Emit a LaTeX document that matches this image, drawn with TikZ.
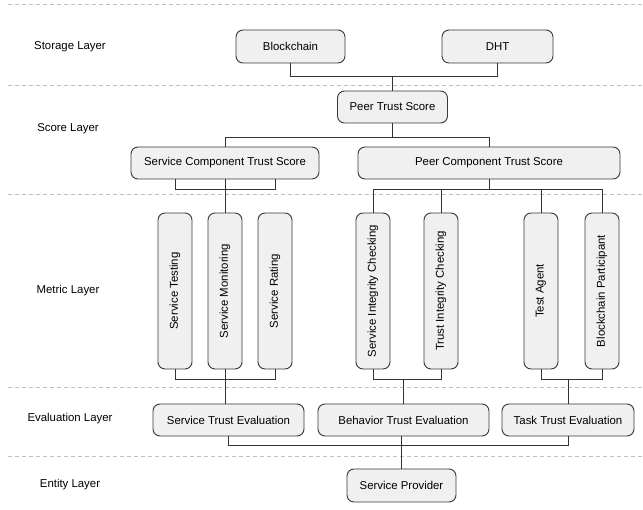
\documentclass[tikz,border=0pt]{standalone}
\usepackage{fontspec}
\setmainfont{Liberation Sans}
\begin{document}
\begin{tikzpicture}[x=1pt,y=-1pt,
  every node/.style={font=\fontsize{11.4}{13}\selectfont, text=black},
  box/.style={draw=black!78, fill=black!6, line width=0.9pt, rounded corners=7pt, inner sep=0pt, minimum height=33pt},
  vbox/.style={box, minimum width=34pt, minimum height=156pt},
  wire/.style={draw=black!80, line width=0.9pt},
  sep/.style={draw=black!25, line width=0.8pt, dash pattern=on 4pt off 3pt},
  lay/.style={anchor=center}]
\useasboundingbox (0,0) rectangle (643,510);

% layer separators
\foreach \yy in {4,85,194,387,456} \draw[sep] (8,\yy) -- (643,\yy);

% layer labels
\node[lay] (lstorage) at (70,47) {Storage Layer};
\node[lay] (lscore) at (68,129) {Score Layer};
\node[lay] (lmetric) at (68,291) {Metric Layer};
\node[lay] (leval) at (70,419) {Evaluation Layer};
\node[lay] (lentity) at (70,485) {Entity Layer};

% storage
\node[box, minimum width=109pt] (bc) at (290.5,46.5) {Blockchain};
\node[box, minimum width=111pt] (dht) at (497.5,46.5) {DHT};
% score
\node[box, minimum width=110pt, minimum height=32pt] (pts) at (392.5,107) {Peer Trust Score};
\node[box, minimum width=188pt, minimum height=32pt] (sct) at (225,163) {Service Component Trust Score};
\node[box, minimum width=262pt, minimum height=32pt] (pct) at (489,163) {Peer Component Trust Score};
% metric
\node[vbox] (st) at (175,291) {\rotatebox{90}{Service Testing}};
\node[vbox] (sm) at (225,291) {\rotatebox{90}{Service Monitoring}};
\node[vbox] (sr) at (275,291) {\rotatebox{90}{Service Rating}};
\node[vbox] (sic) at (373,291) {\rotatebox{90}{Service Integrity Checking}};
\node[vbox] (tic) at (441,291) {\rotatebox{90}{Trust Integrity Checking}};
\node[vbox] (ta) at (541,291) {\rotatebox{90}{Test Agent}};
\node[vbox] (bp) at (602,291) {\rotatebox{90}{Blockchain Participant}};
% evaluation
\node[box, minimum width=151pt, minimum height=32pt] (ste) at (228.5,420) {Service Trust Evaluation};
\node[box, minimum width=171pt, minimum height=32pt] (bte) at (403.5,420) {Behavior Trust Evaluation};
\node[box, minimum width=132pt, minimum height=32pt] (tte) at (568,420) {Task Trust Evaluation};
% entity
\node[box, minimum width=109pt] (sp) at (401.5,485.5) {Service Provider};

% bus levels
\coordinate (b1) at (0,76);
\coordinate (b2) at (0,137);
\coordinate (b3) at (0,189);
\coordinate (b4) at (0,379);
\coordinate (b5) at (0,445);

% storage -> score
\draw[wire] (bc.south) -- (bc |- b1) -- (dht |- b1) -- (dht.south);
\draw[wire] (pts.north) -- (pts |- b1);
% score
\draw[wire] (sct.north) -- (sct |- b2) -- (pct |- b2) -- (pct.north);
\draw[wire] (pts.south) -- (pts |- b2);
% score -> metric
\draw[wire] (st |- sct.south) -- (st |- b3) -- (sr |- b3) -- (sr |- sct.south);
\draw[wire] (sm |- sct.south) -- (sm.north);
\draw[wire] (pct.south) -- (pct |- b3);
\draw[wire] (sic.north) -- (sic |- b3) -- (bp |- b3) -- (bp.north);
\draw[wire] (tic.north) -- (tic |- b3);
\draw[wire] (ta.north) -- (ta |- b3);
% metric -> evaluation
\draw[wire] (st.south) -- (st |- b4) -- (sr |- b4) -- (sr.south);
\draw[wire] (sm.south) -- (sm |- ste.north);
\draw[wire] (sic.south) -- (sic |- b4) -- (tic |- b4) -- (tic.south);
\draw[wire] (bte.north) -- (bte |- b4);
\draw[wire] (ta.south) -- (ta |- b4) -- (bp |- b4) -- (bp.south);
\draw[wire] (tte.north) -- (tte |- b4);
% evaluation -> entity
\draw[wire] (ste.south) -- (ste |- b5) -- (tte |- b5) -- (tte.south);
\draw[wire] (sp.north) -- (sp |- bte.south);
\end{tikzpicture}
\end{document}
